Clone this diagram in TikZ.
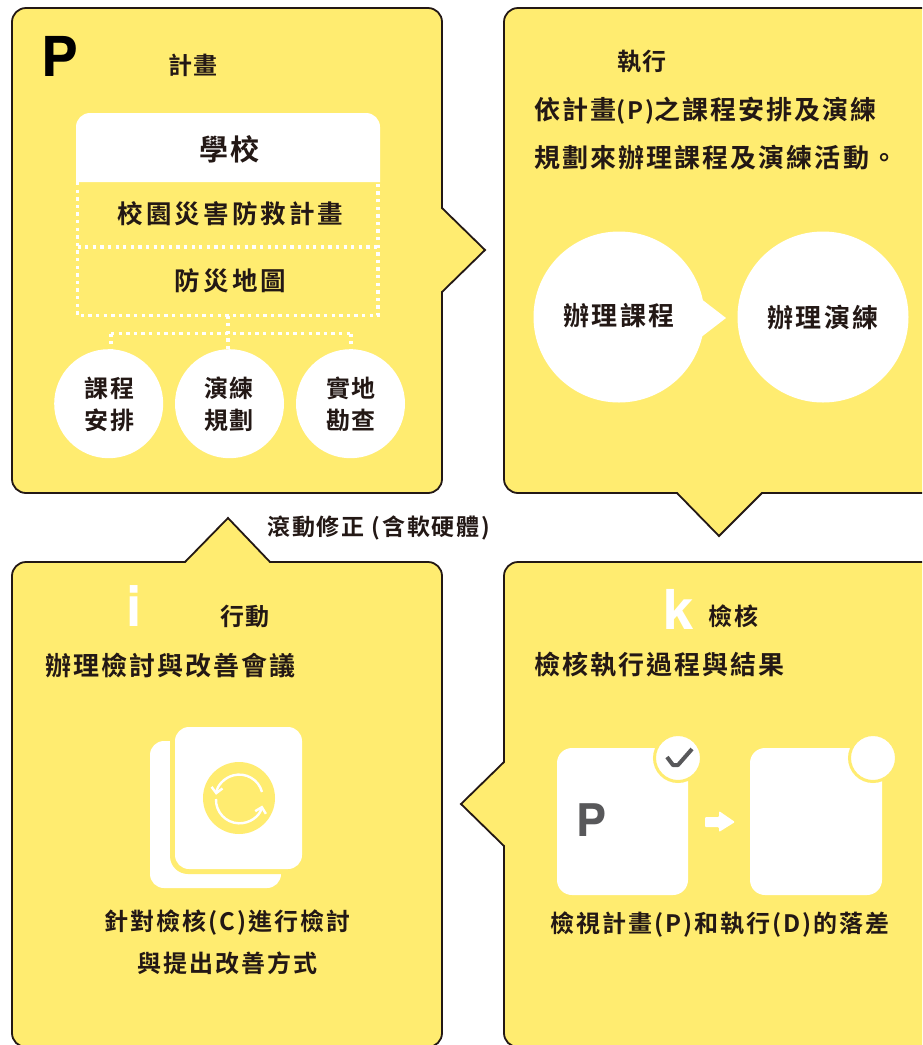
\documentclass[tikz,border=0pt]{standalone}
\usepackage{fontspec}
\setmainfont{TeX Gyre Heros}
\newfontfamily\cjkA[LetterSpace=8]{Noto Sans CJK TC Bold}
\newfontfamily\cjkB[LetterSpace=12]{Noto Sans CJK TC Bold}
\usetikzlibrary{arrows.meta}
\definecolor{panel}{HTML}{FFEC70}
\definecolor{ink}{HTML}{231815}
\definecolor{grayink}{HTML}{58585A}
\tikzset{
  panelshape/.style={fill=panel,draw=ink,line width=1.8pt,line join=miter},
  txt/.style={inner sep=0pt,text=ink},
  ta/.style={txt,font=\fontsize{24}{24}\selectfont\cjkA},
  tn/.style={txt,font=\fontsize{23}{23}\selectfont\cjkA},
  tb/.style={txt,font=\fontsize{26}{26}\selectfont\cjkA},
  tc/.style={txt,font=\fontsize{25.5}{25.5}\selectfont\cjkB},
  td/.style={txt,font=\fontsize{29}{29}\selectfont\cjkA},
  bigletter/.style={inner sep=0pt,font=\fontsize{55}{55}\selectfont\bfseries},
  whitedisc/.style={fill=white,circle,inner sep=0pt},
  dots/.style={draw=white,line width=3.7pt,dash pattern=on 3.3pt off 4.3pt},
  card/.style={fill=white,rounded corners=15pt},
  loopline/.style={white,line width=2.4pt,-{Straight Barb[length=5.5pt,width=11pt]}},
}
\begin{document}
\begin{tikzpicture}[x=1pt,y=-1pt]
\useasboundingbox (0,0) rectangle (922,1045);
\clip (0,0) rectangle (922,1045);
\fill[white] (0,0) rectangle (922,1045);
% panels
\draw[panelshape] (26,8) -- (428,8) arc[start angle=90,end angle=0,x radius=14,y radius=-14] -- (442,208) -- (485,250) -- (442,292) -- (442,479) arc[start angle=0,end angle=-90,x radius=14,y radius=-14] -- (26,493) arc[start angle=270,end angle=180,x radius=14,y radius=-14] -- (12,22) arc[start angle=180,end angle=90,x radius=14,y radius=-14] -- cycle;
\draw[panelshape] (518,8) -- (960,8) -- (960,493) -- (762,493) -- (719,536) -- (677,493) -- (518,493) arc[start angle=270,end angle=180,x radius=14,y radius=-14] -- (504,22) arc[start angle=180,end angle=90,x radius=14,y radius=-14] -- cycle;
\draw[panelshape] (26,562) -- (185,562) -- (228,518) -- (270,562) -- (428,562) arc[start angle=90,end angle=0,x radius=14,y radius=-14] -- (442,1033) arc[start angle=0,end angle=-90,x radius=14,y radius=-14] -- (26,1047) arc[start angle=270,end angle=180,x radius=14,y radius=-14] -- (12,576) arc[start angle=180,end angle=90,x radius=14,y radius=-14] -- cycle;
\draw[panelshape] (518,562) -- (960,562) -- (960,1047) -- (518,1047) arc[start angle=270,end angle=180,x radius=14,y radius=-14] -- (504,846) -- (461,804) -- (504,762) -- (504,576) arc[start angle=180,end angle=90,x radius=14,y radius=-14] -- cycle;

% Plan panel
\node[bigletter,text=black] (letterP) at (59.5,56) {P};
\node[ta] (planTitle) at (193,65) {計畫};
\fill[white] (76,182) -- (76,127) arc[start angle=180,end angle=90,x radius=14,y radius=-14] -- (366,113) arc[start angle=90,end angle=0,x radius=14,y radius=-14] -- (380,182) -- cycle;
\node[td] (school) at (229.5,149) {學校};
\node[tc] (planA) at (230.5,214) {校園災害防救計畫};
\node[tc] (planB) at (230.5,281) {防災地圖};
\coordinate (bl) at (77.5,315.5);
\coordinate (br) at (378,315.5);
\coordinate (ml) at (77.5,247);
\coordinate (mr) at (378,247);
\coordinate (tl) at (77.5,182);
\coordinate (tr) at (378,182);
\draw[dots] (tl) -- (bl) -- (br) -- (tr);
\draw[dots] (ml) -- (mr);
\node[whitedisc,minimum size=109pt] (c1) at (108.7,403.7) {};
\node[whitedisc,minimum size=109pt] (c2) at (229.5,403.7) {};
\node[whitedisc,minimum size=109pt] (c3) at (350.5,403.7) {};
\coordinate (busT) at (228,315.5);
\coordinate (busL) at (111,333.5);
\coordinate (busR) at (351,333.5);
\draw[dots] (busT) -- (c2.north -| busT);
\draw[dots] (busL) -- (busR);
\draw[dots] (busL) -- (c1.north -| busL);
\draw[dots] (busR) -- (c3.north -| busR);
\node[ta] (c1a) at (109.5,388) {課程};
\node[ta] (c1b) at (109.5,420) {安排};
\node[ta] (c2a) at (229,388) {演練};
\node[ta] (c2b) at (229,420) {規劃};
\node[ta] (c3a) at (351,388) {實地};
\node[ta] (c3b) at (351,420) {勘查};

% Do panel
\node[ta] (doTitle) at (642,62) {執行};
\node[tb,anchor=west] (doA) at (534,111) {依計畫{\fontsize{24}{24}\selectfont(P)}之課程安排及演練};
\node[tb,anchor=west] (doB) at (534,158) {規劃來辦理課程及演練活動。};
\node[whitedisc,minimum size=171pt] (d1) at (619,317) {};
\node[whitedisc,minimum size=171pt] (d2) at (823,317) {};
\fill[white] (700,298) -- (726,318) -- (700,338) -- cycle;
\node[tb] (d1t) at (619,316) {辦理課程};
\node[tb] (d2t) at (823,318) {辦理演練};

% Act panel
\node[tn,anchor=west] (actNote) at (267,528) {滾動修正 (含軟硬體)};
\node[bigletter,text=white] (letterI) at (134.5,606) {i};
\node[ta] (actTitle) at (245,616) {行動};
\node[tb,anchor=west] (actA) at (45,665) {辦理檢討與改善會議};
\fill[white,rounded corners=14pt] (150,741) rectangle (281,888);
\fill[panel,rounded corners=18pt] (170,722) rectangle (307,874);
\fill[white,rounded corners=14pt] (175,727) rectangle (302,869);
\node[circle,fill=panel,minimum size=72pt,inner sep=0pt] (loop) at (239,798) {};
\draw[loopline] (262,792) arc[start angle=15,end angle=172,x radius=23.5,y radius=-23.5];
\draw[loopline] (216,799) arc[start angle=178,end angle=346,x radius=23.5,y radius=-23.5];
\node[ta] (actB) at (227.5,923) {針對檢核(C)進行檢討};
\node[ta] (actC) at (227.5,963) {與提出改善方式};

% Check panel
\node[bigletter,text=white] (letterK) at (679,609) {k};
\node[ta] (chkTitle) at (733.5,616) {檢核};
\node[tb,anchor=west] (chkA) at (534,665) {檢核執行過程與結果};
\fill[card] (557,748) rectangle (688,895);
\fill[card] (750,748) rectangle (882,895);
\node[whitedisc,draw=panel,line width=3pt,minimum size=47pt] (ok1) at (678,758) {};
\node[whitedisc,draw=panel,line width=3pt,minimum size=47pt] (ok2) at (873,758) {};
\draw[grayink,line width=4pt,line join=round] (667,757) -- (673,765) -- (678,765) -- (692,749);
\node[inner sep=0pt,text=grayink,font=\fontsize{45}{45}\selectfont\bfseries] (letterP2) at (592,820) {P};
\fill[white,rounded corners=1pt] (705,817) -- (719,817) -- (719,811) -- (735,822) -- (719,832) -- (719,827) -- (705,827) -- cycle;
\node[ta] (chkB) at (720,925) {檢視計畫(P)和執行(D)的落差};
\end{tikzpicture}
\end{document}
